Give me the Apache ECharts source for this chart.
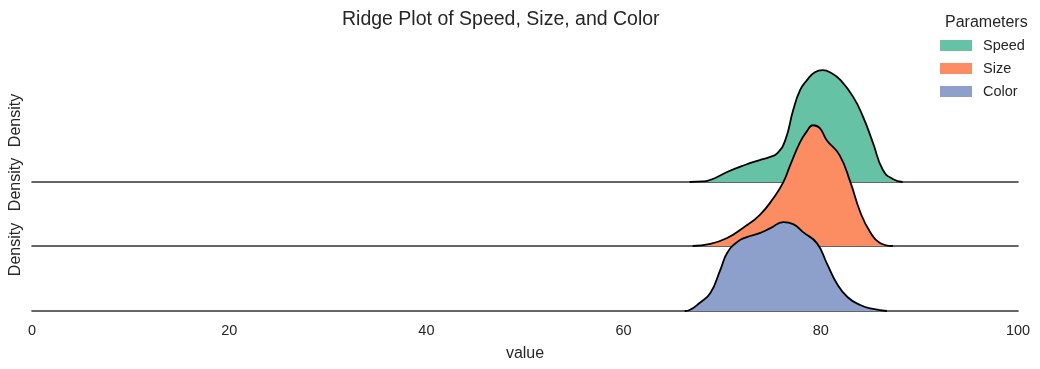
<!DOCTYPE html>
<html>
<head>
<meta charset="utf-8">
<script src="https://cdn.jsdelivr.net/npm/echarts@6/dist/echarts.min.js"></script>
<style>
  html, body { margin: 0; padding: 0; background: #fff; }
  #chart { width: 1040px; height: 369px; }
</style>
</head>
<body>
<div id="chart"></div>
<script>
// 各参数的密度曲线
const names = ["Speed", "Size", "Color"];
const colors = ["#66c2a5", "#fc8d62", "#8da0cb"];
const xTicks = [0, 20, 40, 60, 80, 100];

const speedX = [66.7, 68.1, 68.5, 69.3, 70.5, 72.3, 73.8, 74.8, 75.6, 76.4, 77.2, 77.9, 78.6, 79.4, 80.2, 81.1, 82.0, 83.3, 84.3, 85.3, 86.3, 87.3, 88.3];
const speedY = [0, 0.0005, 0.001, 0.0036, 0.0089, 0.0152, 0.0196, 0.0223, 0.0259, 0.0375, 0.0643, 0.0821, 0.0911, 0.0982, 0.1, 0.0973, 0.0911, 0.0759, 0.058, 0.0348, 0.0107, 0.0027, 0];

const sizeX = [67.0, 68.8, 70.5, 72.1, 73.8, 75.2, 76.2, 76.9, 77.9, 78.6, 79.2, 79.9, 80.6, 81.9, 83.0, 84.0, 85.0, 86.0, 87.3];
const sizeY = [0, 0.0018, 0.0071, 0.0161, 0.0277, 0.0429, 0.0571, 0.0723, 0.0929, 0.1027, 0.108, 0.1054, 0.0946, 0.0813, 0.0571, 0.0304, 0.0125, 0.0027, 0];

const colorX = [66.2, 66.7, 67.7, 68.8, 69.8, 70.5, 71.5, 72.5, 73.8, 74.9, 76.2, 77.2, 78.2, 79.6, 80.6, 81.6, 82.7, 84.0, 85.3, 86.7];
const colorY = [0, 0.0009, 0.0071, 0.0161, 0.0366, 0.0518, 0.0616, 0.0661, 0.0696, 0.0741, 0.0795, 0.0777, 0.0705, 0.0607, 0.0429, 0.025, 0.0125, 0.0054, 0.0018, 0];

const curves = [[speedX, speedY], [sizeX, sizeY], [colorX, colorY]];
const baselines = [182, 246, 311];
const ridgeH = 123;

const myChart = echarts.init(document.getElementById("chart"));
const font = "Liberation Sans, Arial, sans-serif";

const grid = [], xAxis = [], yAxis = [], series = [];
curves.forEach(function (c, i) {
  grid.push({ left: 32, right: 22, top: baselines[i] - ridgeH, height: ridgeH });
  const last = i === curves.length - 1;
  xAxis.push({
    type: "value", gridIndex: i, min: xTicks[0], max: xTicks[xTicks.length - 1], interval: 20,
    axisLine: { show: true, lineStyle: { color: "#333", width: 1.6 } },
    axisTick: { show: false },
    splitLine: { show: false },
    axisLabel: { show: last, color: "#262626", fontSize: 14.5, fontFamily: font, margin: 12 },
    name: last ? "value" : "",
    nameLocation: "middle", nameGap: 35,
    nameTextStyle: { color: "#262626", fontSize: 16, fontFamily: font }
  });
  yAxis.push({
    type: "value", gridIndex: i, min: 0, max: 0.11,
    axisLine: { show: false }, axisTick: { show: false },
    axisLabel: { show: false }, splitLine: { show: false },
    name: "Density", nameLocation: "middle", nameRotate: 90, nameGap: 8,
    nameTextStyle: { color: "#262626", fontSize: 16, fontFamily: font }
  });
  series.push({
    name: names[i], type: "line", xAxisIndex: i, yAxisIndex: i,
    data: c[0].map(function (x, j) { return [x, c[1][j]]; }),
    smooth: 0.5, symbol: "none", clip: false, z: 2 + i,
    lineStyle: { color: "#000", width: 1.8 },
    itemStyle: { color: colors[i] },
    areaStyle: { color: colors[i], opacity: 1, origin: "start" }
  });
});

const option = {
  animation: false,
  title: [
    { text: "Ridge Plot of Speed, Size, and Color", left: 337, top: 5,
      textStyle: { color: "#262626", fontSize: 19.5, fontWeight: "normal", fontFamily: font } },
    { text: "Parameters", left: 940, top: 10,
      textStyle: { color: "#262626", fontSize: 16, fontWeight: "normal", fontFamily: font } }
  ],
  legend: {
    orient: "vertical", left: 935, top: 33,
    icon: "rect", itemWidth: 32, itemHeight: 11, itemGap: 8,
    data: names.map(function (n, i) { return { name: n, itemStyle: { color: colors[i], borderWidth: 0 } }; }),
    textStyle: { color: "#262626", fontSize: 14.5, fontFamily: font, padding: [0, 0, 0, 6] }
  },
  grid: grid,
  xAxis: xAxis,
  yAxis: yAxis,
  series: series
};
myChart.setOption(option);
</script>
</body>
</html>
